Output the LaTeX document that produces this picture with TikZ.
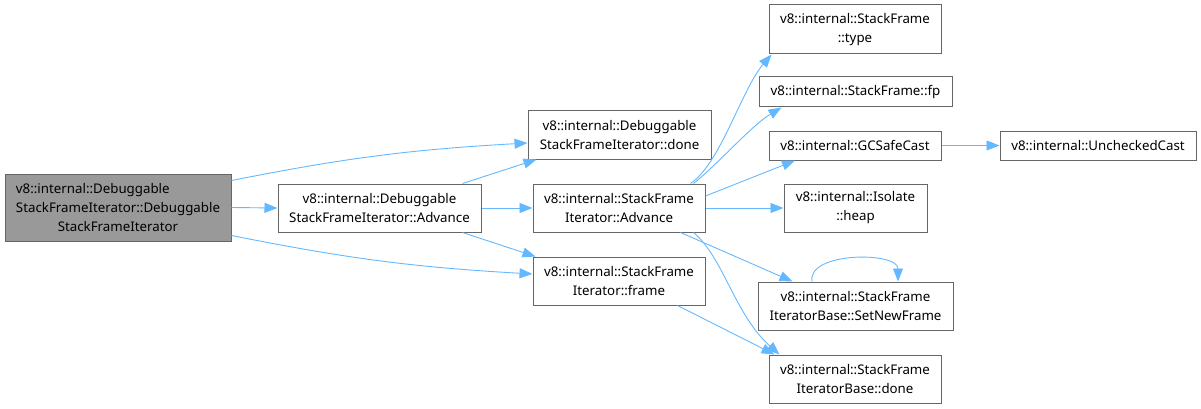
\documentclass[tikz,border=0pt]{standalone}
\usepackage{fontspec}
\setmainfont{Noto Sans}
\definecolor{edgeBlue}{RGB}{99,184,255}
\definecolor{borderGray}{RGB}{102,102,102}
\definecolor{mainGray}{RGB}{153,153,153}
\usetikzlibrary{arrows.meta,positioning}

\begin{document}
\begin{tikzpicture}[
    x=1pt, y=-1pt,
    func/.style={draw=borderGray, fill=white, line width=1pt, inner sep=0pt,
      align=center, font=\fontsize{13.3}{19}\selectfont},
    edge/.style={draw=edgeBlue, line width=0.9pt,
      -{Triangle[length=13pt,width=10pt]}},
  ]
  \useasboundingbox (0,0) rectangle (1201,409);

  % caller
  \node[func, fill=mainGray, minimum width=226pt, minimum height=67pt] (ctor) at (118,207.5)
    {\rlap{v8::internal::Debuggable}\phantom{StackFrameIterator::Debuggable}\\StackFrameIterator::Debuggable\\StackFrameIterator};

  % first level
  \node[func, minimum width=203pt, minimum height=48pt] (dadv) at (379.5,208)
    {v8::internal::Debuggable\\StackFrameIterator::Advance};
  \node[func, minimum width=183pt, minimum height=48pt] (ddone) at (619.5,135)
    {v8::internal::Debuggable\\StackFrameIterator::done};
  \node[func, minimum width=172pt, minimum height=48pt] (sadv) at (619,208)
    {v8::internal::StackFrame\\Iterator::Advance};
  \node[func, minimum width=172pt, minimum height=48pt] (frame) at (619,281)
    {v8::internal::StackFrame\\Iterator::frame};

  % callees of Advance
  \node[func, minimum width=172pt, minimum height=49pt] (type) at (855,29.5)
    {v8::internal::StackFrame\\::type};
  \node[func, minimum width=193pt, minimum height=30pt] (fp) at (855.5,92)
    {v8::internal::StackFrame::fp};
  \node[func, minimum width=172pt, minimum height=29pt] (gccast) at (855,145.5)
    {v8::internal::GCSafeCast};
  \node[func, minimum width=196pt, minimum height=29pt] (ucast) at (1098,145.5)
    {v8::internal::UncheckedCast};
  \node[func, minimum width=143pt, minimum height=48pt] (heap) at (855.5,208)
    {v8::internal::Isolate\\::heap};
  \node[func, minimum width=195pt, minimum height=48pt] (setnew) at (855.5,306)
    {v8::internal::StackFrame\\IteratorBase::SetNewFrame};
  \node[func, minimum width=172pt, minimum height=48pt] (bdone) at (855,379)
    {v8::internal::StackFrame\\IteratorBase::done};

  % calls from the constructor
  \draw[edge] ([yshift=-7pt]ctor.north east) to[bend left=4] ([yshift=-8pt]ddone.west);
  \draw[edge] (ctor.east) -- (dadv.west);
  \draw[edge] ([yshift=6pt]ctor.south east) to[bend right=4] ([yshift=7pt]frame.west);

  % calls from DebuggableStackFrameIterator::Advance
  \draw[edge] ([xshift=-19pt]dadv.north east) -- ([xshift=9pt]ddone.south west);
  \draw[edge] (dadv.east) -- (sadv.west);
  \draw[edge] ([xshift=-19pt]dadv.south east) -- ([xshift=3pt]frame.north west);

  % calls from StackFrameIterator::Advance
  \draw[edge] ([xshift=-15pt]sadv.north east) .. controls +(30,-20) and +(-30,35) .. ([xshift=3pt]type.south west);
  \draw[edge] ([xshift=-12pt]sadv.north east) .. controls +(25,-20) and +(-30,18) .. ([xshift=23pt]fp.south west);
  \draw[edge] ([yshift=12pt]sadv.east) -- ([xshift=-60pt]gccast.south);
  \draw[edge] (sadv.east) -- (heap.west);
  \draw[edge] ([xshift=-25pt]sadv.south east) -- ([xshift=35pt]setnew.north west);
  \draw[edge] ([xshift=-12pt]sadv.south east) .. controls +(30,25) and +(-45,-40) .. ([xshift=11pt]bdone.north west);
  \draw[edge] ([xshift=-28pt]frame.south east) -- ([xshift=6pt]bdone.north west);

  % other calls
  \draw[edge] (gccast.east) -- (ucast.west);
  \draw[edge] ([xshift=-43.5pt]setnew.north) .. controls +(-5,-30) and +(0,-30) .. ([xshift=42.5pt]setnew.north);
\end{tikzpicture}
\end{document}
